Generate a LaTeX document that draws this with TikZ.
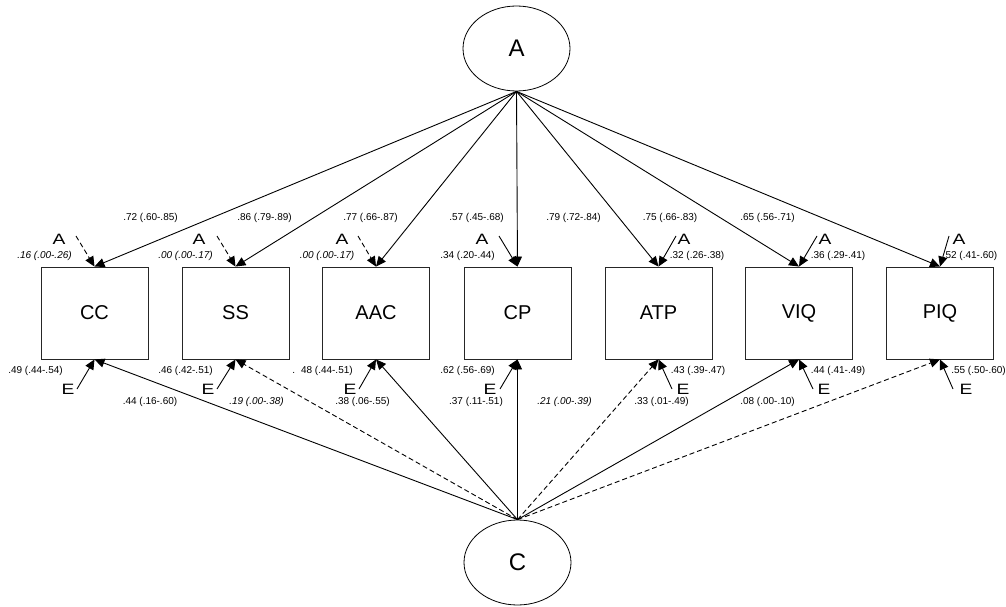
\documentclass[tikz,border=0pt]{standalone}
\usepackage{fontspec}
\setmainfont{Liberation Sans}
\usetikzlibrary{arrows.meta,shapes.geometric}
\newcommand{\wideltr}[1]{\scalebox{1.28}[1]{#1}}
\begin{document}
\begin{tikzpicture}[x=1pt,y=-1pt]
\tikzstyle{lat}= [ellipse,draw,line width=0.8pt,minimum width=107pt,minimum height=85pt,inner sep=0pt,font=\fontsize{24}{24}\selectfont]
\tikzstyle{obs}= [rectangle,draw=black!85,line width=0.9pt,minimum width=107pt,minimum height=92pt,inner sep=0pt,font=\fontsize{20}{20}\selectfont]
\tikzstyle{src}= [inner sep=0pt,font=\fontsize{15}{15}\selectfont]
\tikzstyle{est}= [inner sep=0pt,font=\fontsize{10}{12}\selectfont]
\tikzstyle{esti}= [inner sep=0pt,font=\fontsize{10}{12}\selectfont\itshape]
\tikzstyle{load}= [-{Triangle[length=10pt,width=9pt]},line width=0.9pt]
\tikzstyle{loadz}= [load,dash pattern=on 5pt off 3pt]

\useasboundingbox (0,0) rectangle (1006,607);

\path
	(516.5, 48.5) node[lat] (lA) {A}
	(517.5,562.5) node[lat] (lC) {C}
	( 94.5,313) node[obs] (cc) {CC}
	(235.5,313) node[obs] (ss) {SS}
	(376.0,313) node[obs] (aac) {AAC}
	(517.5,313) node[obs] (cp) {CP}
	(658.5,313) node[obs] (atp) {ATP}
	(799.0,313) node[obs] (viq) {VIQ}
	(940.0,313) node[obs] (piq) {PIQ}
;
% A and E sources
\path
	( 59,239.5) node[src] (aCC) {\wideltr{A}}   ( 76,236) coordinate (taCC)
	(199,239.5) node[src] (aSS) {\wideltr{A}}   (217,236) coordinate (taSS)
	(342,239.5) node[src] (aAAC) {\wideltr{A}}  (358,236) coordinate (taAAC)
	(482,239.5) node[src] (aCP) {\wideltr{A}}   (499,236) coordinate (taCP)
	(684,239.5) node[src] (aATP) {\wideltr{A}}  (676,236) coordinate (taATP)
	(825,239.5) node[src] (aVIQ) {\wideltr{A}}  (817,236) coordinate (taVIQ)
	(959,239.5) node[src] (aPIQ) {\wideltr{A}}  (949,236) coordinate (taPIQ)
	( 68,389) node[src] (eCC) {\wideltr{E}}   ( 77,389) coordinate (teCC)
	(208,389) node[src] (eSS) {\wideltr{E}}   (217,389) coordinate (teSS)
	(350,389) node[src] (eAAC) {\wideltr{E}}  (359,389) coordinate (teAAC)
	(490,389) node[src] (eCP) {\wideltr{E}}   (500,389) coordinate (teCP)
	(683,389) node[src] (eATP) {\wideltr{E}}  (672,389) coordinate (teATP)
	(824,389) node[src] (eVIQ) {\wideltr{E}}  (813,389) coordinate (teVIQ)
	(966,389) node[src] (ePIQ) {\wideltr{E}}  (953,389) coordinate (tePIQ)
;
% estimates
\path
	(150.5,217.5) node[est] (lcc) {.72 (.60-.85)}
	(264.5,217.5) node[est] (lss) {.86 (.79-.89)}
	(370.5,217.5) node[est] (laac) {.77 (.66-.87)}
	(476.5,217.5) node[est] (lcp) {.57 (.45-.68)}
	(573.5,217.5) node[est] (latp) {.79 (.72-.84)}
	(670.0,217.5) node[est] (lviq) {.75 (.66-.83)}
	(767.5,217.5) node[est] (lpiq) {.65 (.56-.71)}
	( 44.5,256) node[esti] (vacc) {.16 (.00-.26)}
	(185.5,256) node[esti] (vass) {.00 (.00-.17)}
	(327.0,256) node[esti] (vaaac) {.00 (.00-.17)}
	(467.5,256) node[est] (vacp) {.34 (.20-.44)}
	(697.0,256) node[est] (vaatp) {.32 (.26-.38)}
	(838.0,256) node[est] (vaviq) {.36 (.29-.41)}
	(970.0,256) node[est] (vapiq) {.52 (.41-.60)}
	( 35.5,371) node[est] (vecc) {.49 (.44-.54)}
	(185.5,371) node[est] (vess) {.46 (.42-.51)}
	(322.5,371) node[est] (veaac) {.\hspace{6pt}48 (.44-.51)}
	(467.5,371) node[est] (vecp) {.62 (.56-.69)}
	(698.0,371) node[est] (veatp) {.43 (.39-.47)}
	(838.0,371) node[est] (veviq) {.44 (.41-.49)}
	(978.5,371) node[est] (vepiq) {.55 (.50-.60)}
	(150.0,402) node[est] (vccc) {.44 (.16-.60)}
	(256.5,402) node[esti] (vcss) {.19 (.00-.38)}
	(362.5,402) node[est] (vcaac) {.38 (.06-.55)}
	(476.0,402) node[est] (vccp) {.37 (.11-.51)}
	(564.5,402) node[esti] (vcatp) {.21 (.00-.39)}
	(661.5,402) node[est] (vcviq) {.33 (.01-.49)}
	(767.5,402) node[est] (vcpiq) {.08 (.00-.10)}
;
% loadings
\draw[load] (lA.south) -- (cc.north);
\draw[load] (lA.south) -- (ss.north);
\draw[load] (lA.south) -- (aac.north);
\draw[load] (lA.south) -- (cp.north);
\draw[load] (lA.south) -- (atp.north);
\draw[load] (lA.south) -- (viq.north);
\draw[load] (lA.south) -- (piq.north);
\draw[load]  (lC.north) -- (cc.south);
\draw[loadz] (lC.north) -- (ss.south);
\draw[load]  (lC.north) -- (aac.south);
\draw[load]  (lC.north) -- (cp.south);
\draw[loadz] (lC.north) -- (atp.south);
\draw[load]  (lC.north) -- (viq.south);
\draw[loadz] (lC.north) -- (piq.south);
% specific paths
\draw[loadz] (taCC) -- (cc.north);
\draw[loadz] (taSS) -- (ss.north);
\draw[loadz] (taAAC) -- (aac.north);
\draw[load] (taCP) -- (cp.north);
\draw[load] (taATP) -- (atp.north);
\draw[load] (taVIQ) -- (viq.north);
\draw[load] (taPIQ) -- (piq.north);
\draw[load] (teCC) -- (cc.south);
\draw[load] (teSS) -- (ss.south);
\draw[load] (teAAC) -- (aac.south);
\draw[load] (teCP) -- (cp.south);
\draw[load] (teATP) -- (atp.south);
\draw[load] (teVIQ) -- (viq.south);
\draw[load] (tePIQ) -- (piq.south);
\end{tikzpicture}
\end{document}
